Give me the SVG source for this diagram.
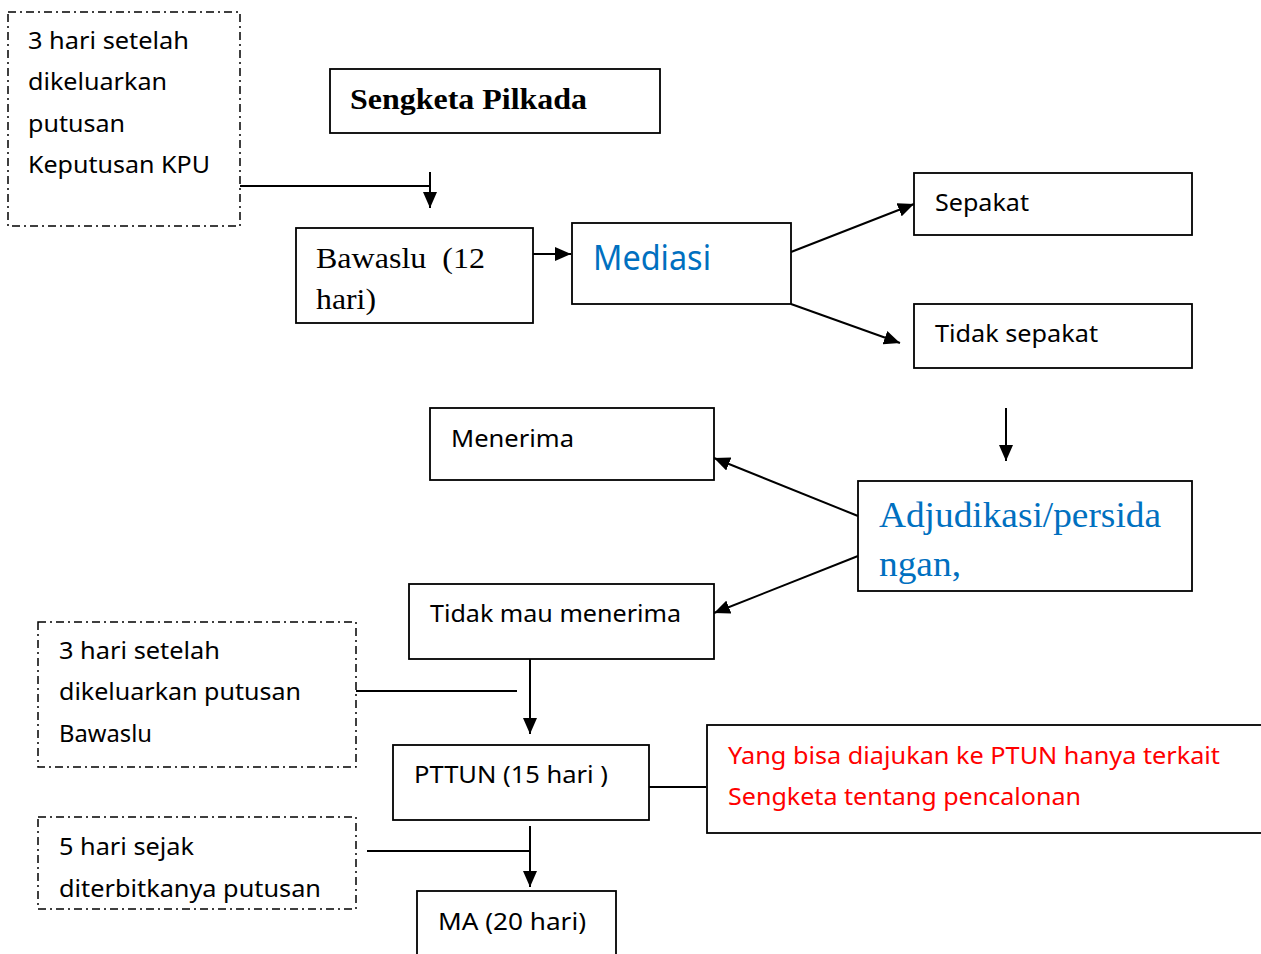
<svg xmlns="http://www.w3.org/2000/svg" width="1261" height="954" viewBox="0 0 1261 954">
<defs>
<style>
.box{fill:#fff;stroke:#000;stroke-width:1.8}
.dash{fill:none;stroke:#000;stroke-width:1.5;stroke-dasharray:8 4 2 4}
.ln{fill:none;stroke:#000;stroke-width:2}
.s{font-family:"Noto Sans","Open Sans",sans-serif;font-size:24px;fill:#000}
.sr{font-family:"Liberation Serif","Times New Roman",serif;font-size:30px;fill:#000}
.blue{fill:#0070C0}
.red{fill:#FF0000}
</style>
<marker id="ah" markerUnits="userSpaceOnUse" markerWidth="18" markerHeight="14" refX="16" refY="7" orient="auto">
<path d="M0,0 L16,7 L0,14 Z" fill="#000"/>
</marker>
</defs>
<rect width="1261" height="954" fill="#fff"/>

<g id="connectors">
<polyline class="ln" points="240,186 430,186"/>
<line class="ln" x1="430" y1="172" x2="430" y2="208" marker-end="url(#ah)"/>
<line class="ln" x1="533" y1="254" x2="571" y2="254" marker-end="url(#ah)"/>
<line class="ln" x1="791" y1="252" x2="914" y2="204" marker-end="url(#ah)"/>
<line class="ln" x1="791" y1="304" x2="900" y2="343" marker-end="url(#ah)"/>
<line class="ln" x1="1006" y1="408" x2="1006" y2="461" marker-end="url(#ah)"/>
<line class="ln" x1="858" y1="516" x2="714" y2="458" marker-end="url(#ah)"/>
<line class="ln" x1="858" y1="556" x2="714" y2="613" marker-end="url(#ah)"/>
<line class="ln" x1="356" y1="691" x2="517" y2="691"/>
<line class="ln" x1="530" y1="659" x2="530" y2="734" marker-end="url(#ah)"/>
<line class="ln" x1="649" y1="787" x2="706" y2="787"/>
<line class="ln" x1="367" y1="851" x2="530" y2="851"/>
<line class="ln" x1="530" y1="826" x2="530" y2="887" marker-end="url(#ah)"/>
</g>

<g id="note-kpu">
<rect class="dash" x="8" y="12" width="232" height="214"/>
<text class="s" x="28" y="49" textLength="161" lengthAdjust="spacingAndGlyphs">3 hari setelah</text>
<text class="s" x="28" y="90" textLength="139" lengthAdjust="spacingAndGlyphs">dikeluarkan</text>
<text class="s" x="28" y="132" textLength="97" lengthAdjust="spacingAndGlyphs">putusan</text>
<text class="s" x="28" y="173" textLength="182" lengthAdjust="spacingAndGlyphs">Keputusan KPU</text>
</g>

<g id="sengketa">
<rect class="box" x="330" y="69" width="330" height="64"/>
<text class="sr" x="350" y="109" font-weight="bold" textLength="237" lengthAdjust="spacingAndGlyphs">Sengketa Pilkada</text>
</g>

<g id="bawaslu">
<rect class="box" x="296" y="228" width="237" height="95"/>
<text class="sr" x="316" y="268" textLength="169" lengthAdjust="spacingAndGlyphs" xml:space="preserve">Bawaslu  (12</text>
<text class="sr" x="316" y="309" textLength="60" lengthAdjust="spacingAndGlyphs">hari)</text>
</g>

<g id="mediasi">
<rect class="box" x="572" y="223" width="219" height="81"/>
<text class="s blue" x="593" y="270" style="font-size:34px" textLength="118" lengthAdjust="spacingAndGlyphs">Mediasi</text>
</g>

<g id="sepakat">
<rect class="box" x="914" y="173" width="278" height="62"/>
<text class="s" x="935" y="211" textLength="94" lengthAdjust="spacingAndGlyphs">Sepakat</text>
</g>

<g id="tidak-sepakat">
<rect class="box" x="914" y="304" width="278" height="64"/>
<text class="s" x="935" y="342" textLength="163" lengthAdjust="spacingAndGlyphs">Tidak sepakat</text>
</g>

<g id="menerima">
<rect class="box" x="430" y="408" width="284" height="72"/>
<text class="s" x="451" y="447" textLength="123" lengthAdjust="spacingAndGlyphs">Menerima</text>
</g>

<g id="adjudikasi">
<rect class="box" x="858" y="481" width="334" height="110"/>
<text class="sr blue" x="879" y="527" style="font-size:36px" textLength="282" lengthAdjust="spacingAndGlyphs">Adjudikasi/persida</text>
<text class="sr blue" x="879" y="576" style="font-size:36px" textLength="82" lengthAdjust="spacingAndGlyphs">ngan,</text>
</g>

<g id="tidak-mau">
<rect class="box" x="409" y="584" width="305" height="75"/>
<text class="s" x="430" y="622" textLength="251" lengthAdjust="spacingAndGlyphs">Tidak mau menerima</text>
</g>

<g id="note-bawaslu">
<rect class="dash" x="38" y="622" width="318" height="145"/>
<text class="s" x="59" y="659" textLength="161" lengthAdjust="spacingAndGlyphs">3 hari setelah</text>
<text class="s" x="59" y="700" textLength="242" lengthAdjust="spacingAndGlyphs">dikeluarkan putusan</text>
<text class="s" x="59" y="742" textLength="93" lengthAdjust="spacingAndGlyphs">Bawaslu</text>
</g>

<g id="pttun">
<rect class="box" x="393" y="745" width="256" height="75"/>
<text class="s" x="414" y="783" textLength="194" lengthAdjust="spacingAndGlyphs">PTTUN (15 hari )</text>
</g>

<g id="note-ptun">
<rect class="box" x="707" y="725" width="560" height="108"/>
<text class="s red" x="728" y="764" textLength="492" lengthAdjust="spacingAndGlyphs">Yang bisa diajukan ke PTUN hanya terkait</text>
<text class="s red" x="728" y="805" textLength="353" lengthAdjust="spacingAndGlyphs">Sengketa tentang pencalonan</text>
</g>

<g id="note-ma">
<rect class="dash" x="38" y="817" width="318" height="92"/>
<text class="s" x="59" y="855" textLength="135" lengthAdjust="spacingAndGlyphs">5 hari sejak</text>
<text class="s" x="59" y="897" textLength="262" lengthAdjust="spacingAndGlyphs">diterbitkanya putusan</text>
</g>

<g id="ma">
<rect class="box" x="417" y="891" width="199" height="70"/>
<text class="s" x="438" y="930" textLength="148" lengthAdjust="spacingAndGlyphs">MA (20 hari)</text>
</g>
</svg>
